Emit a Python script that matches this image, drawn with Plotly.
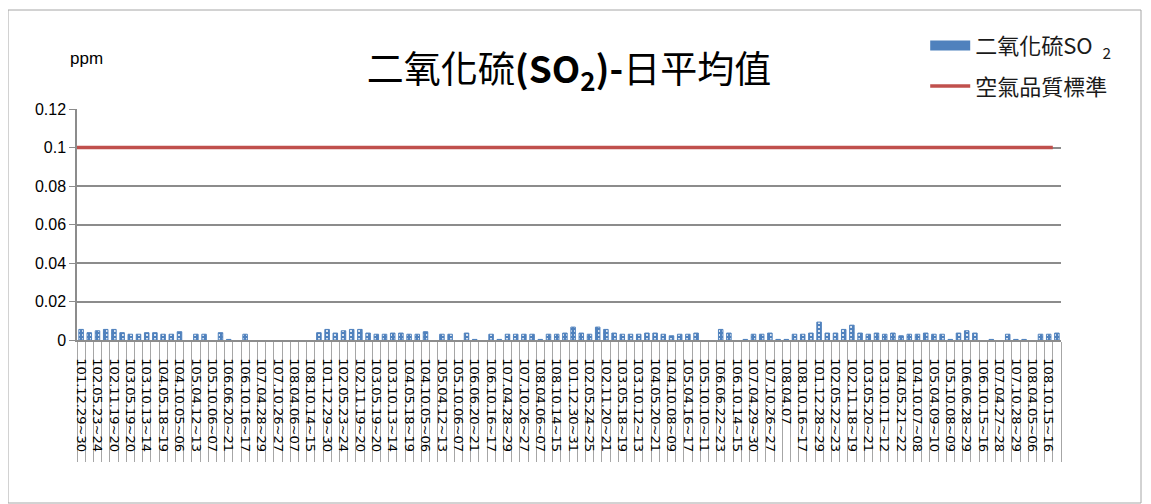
import plotly.graph_objects as go

# Sampling-period labels (every other category carries a visible label)
period_labels = [
    "101.12.29~30", "102.05.23~24", "102.11.19~20", "103.05.19~20", "103.10.13~14",
    "104.05.18~19", "104.10.05~06", "105.04.12~13", "105.10.06~07", "106.06.20~21",
    "106.10.16~17", "107.04.28~29", "107.10.26~27", "108.04.06~07", "108.10.14~15",
    "101.12.29~30", "102.05.23~24", "102.11.19~20", "103.05.19~20", "103.10.13~14",
    "104.05.18~19", "104.10.05~06", "105.04.12~13", "105.10.06~07", "106.06.20~21",
    "106.10.16~17", "107.04.28~29", "107.10.26~27", "108.04.06~07", "108.10.14~15",
    "101.12.30~31", "102.05.24~25", "102.11.20~21", "103.05.18~19", "103.10.12~13",
    "104.05.20~21", "104.10.08~09", "105.04.16~17", "105.10.10~11", "106.06.22~23",
    "106.10.14~15", "107.04.29~30", "107.10.26~27", "108.04.07", "108.10.16~17",
    "101.12.28~29", "102.05.22~23", "102.11.18~19", "103.05.20~21", "103.10.11~12",
    "104.05.21~22", "104.10.07~08", "105.04.09~10", "105.10.08~09", "106.06.28~29",
    "106.10.15~16", "107.04.27~28", "107.10.28~29", "108.04.05~06", "108.10.15~16",
]

# SO2 daily mean (ppm), one value per category (120 categories)
so2_values = [
    0.0055, 0.0038, 0.0048, 0.0055, 0.0055, 0.0038, 0.0030, 0.0030, 0.0038, 0.0038,
    0.0030, 0.0030, 0.0043, None, 0.0030, 0.0030, None, 0.0038, 0.0003, None,
    0.0030, None, None, None, None, None, None, None, None, 0.0038,
    0.0055, 0.0036, 0.0048, 0.0055, 0.0055, 0.0036, 0.0030, 0.0030, 0.0036, 0.0036,
    0.0030, 0.0030, 0.0043, None, 0.0030, 0.0030, None, 0.0036, 0.0003, None,
    0.0030, 0.0003, 0.0030, 0.0030, 0.0030, 0.0030, 0.0003, 0.0030, 0.0030, 0.0036,
    0.0067, 0.0036, 0.0030, 0.0067, 0.0055, 0.0036, 0.0030, 0.0030, 0.0030, 0.0036,
    0.0036, 0.0030, 0.0022, 0.0030, 0.0030, 0.0036, None, None, 0.0055, 0.0036,
    None, 0.0003, 0.0030, 0.0030, 0.0036, 0.0003, 0.0003, 0.0030, 0.0030, 0.0036,
    0.0093, 0.0036, 0.0036, 0.0055, 0.0077, 0.0036, 0.0030, 0.0036, 0.0030, 0.0036,
    0.0022, 0.0030, 0.0030, 0.0036, 0.0030, 0.0030, 0.0003, 0.0036, 0.0048, 0.0036,
    None, 0.0003, None, 0.0030, 0.0003, 0.0003, None, 0.0030, 0.0030, 0.0036,
]

# Air quality standard (ppm)
standard_values = [0.1] * len(so2_values)

y_ticks = [0, 0.02, 0.04, 0.06, 0.08, 0.1, 0.12]
y_tick_text = ["0", "0.02", "0.04", "0.06", "0.08", "0.1", "0.12"]

n = len(so2_values)
x_idx = list(range(n))
label_pos = [2 * i for i in range(len(period_labels))]

BLUE = "#4F81BD"

fig = go.Figure()

fig.add_trace(go.Bar(
    x=x_idx, y=so2_values,
    name="二氧化硫SO\u00a0\u00a0<sub>2</sub>",
    width=0.55,
    marker=dict(
        color=BLUE,
        line=dict(color=BLUE, width=1),
        pattern=dict(shape=".", fgcolor="white", bgcolor=BLUE,
                     size=4, solidity=0.22, fillmode="replace"),
    ),
    showlegend=False,
    legendgroup="a",
))

# legend proxy for the bar series (wide rectangle key, draws nothing)
fig.add_trace(go.Scatter(
    x=[None], y=[None], mode="lines",
    name="二氧化硫SO\u00a0\u00a0<sub>2</sub>",
    line=dict(color=BLUE, width=12),
    legendgroup="a",
))

fig.add_trace(go.Scatter(
    x=[i - 0.5 for i in x_idx], y=standard_values,
    mode="lines", name="空氣品質標準",
    line=dict(color="#C0504D", width=3.5),
    legendgroup="b",
))

tick_font = "Liberation Sans, Arial, sans-serif"
cjk_font = "Noto Sans CJK TC, Noto Sans, sans-serif"

# page content is offset by the 8px body margin
fig.update_layout(
    width=1151, height=504,
    margin=dict(l=69, r=98, t=101, b=172),
    paper_bgcolor="white", plot_bgcolor="white",
    showlegend=True,
    legend=dict(
        x=0.862, y=1.365, xanchor="left", yanchor="top",
        font=dict(family=cjk_font, size=22, color="#1a1a1a"),
        traceorder="grouped", tracegroupgap=9,
        bgcolor="rgba(0,0,0,0)", itemwidth=40,
    ),
    title=dict(
        text="二氧化硫<b>(SO<sub>2</sub>)-</b>日平均值",
        x=(569 - 8) / 1151, xanchor="center", xref="container",
        y=1 - 62 / 504, yanchor="middle", yref="container",
        font=dict(family=cjk_font, size=37, color="#000000"),
    ),
    xaxis=dict(
        range=[-0.5, n - 0.5],
        tickmode="array", tickvals=label_pos, ticktext=period_labels,
        tickangle=90,
        tickfont=dict(family="DejaVu Sans, sans-serif", size=13, color="#000000"),
        ticks="outside", ticklen=14, tickcolor="rgba(0,0,0,0)",
        showgrid=False, zeroline=False,
        showline=True, linecolor="#8C8C8C", linewidth=1.5,
        minor=dict(
            tickmode="array", tickvals=[i - 0.5 for i in range(n + 1)],
            ticks="outside", ticklen=120, tickcolor="#A6A6A6", tickwidth=1,
            showgrid=False,
        ),
    ),
    yaxis=dict(
        range=[0, 0.12],
        tickmode="array", tickvals=y_ticks, ticktext=y_tick_text,
        tickfont=dict(family=tick_font, size=16, color="#000000"),
        ticks="outside", ticklen=6, tickcolor="#8C8C8C",
        showgrid=True, gridcolor="#8C8C8C", gridwidth=1.5,
        zeroline=False,
        showline=True, linecolor="#8C8C8C", linewidth=1.5,
    ),
    annotations=[dict(
        text="ppm", xref="paper", yref="paper",
        x=(86 - 77) / 984, y=(340 - 58) / 231,
        xanchor="center", yanchor="middle", showarrow=False,
        font=dict(family=tick_font, size=17, color="#000000"),
    )],
    shapes=[dict(
        type="rect", xref="paper", yref="paper",
        x0=(8 - 77) / 984, x1=(1141 - 77) / 984,
        y0=(340 - 503) / 231, y1=(340 - 10) / 231,
        line=dict(color="#A6A6A6", width=1), fillcolor="rgba(0,0,0,0)",
        layer="below",
    )],
)

fig.write_html("out.html")
